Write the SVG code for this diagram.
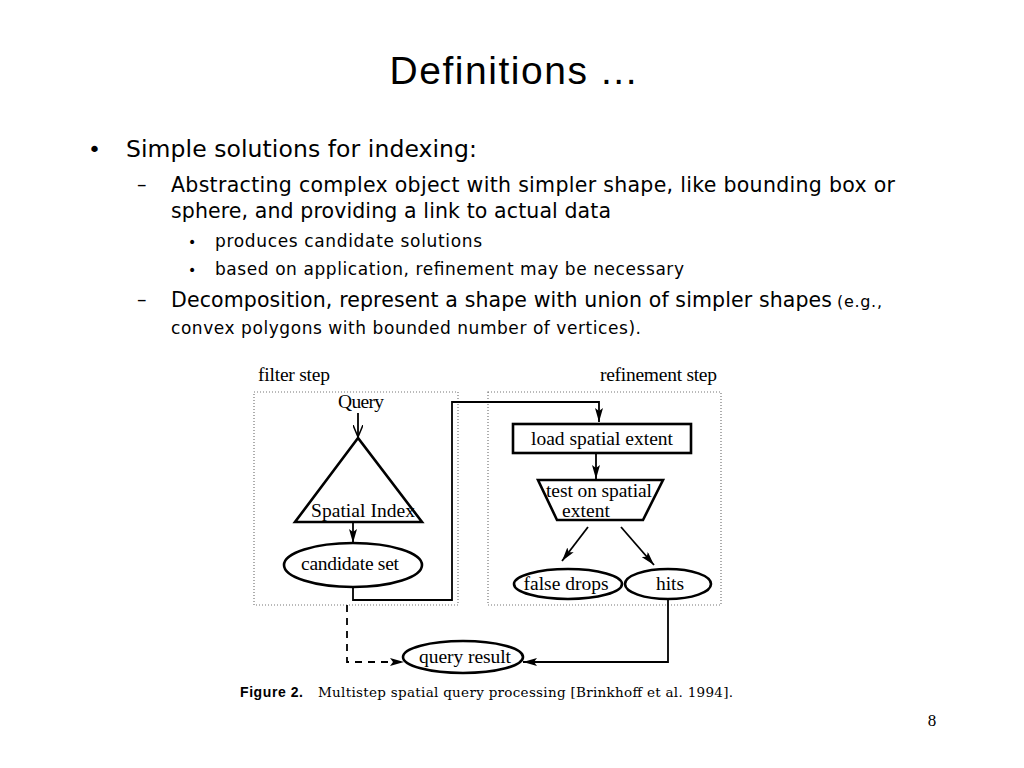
<svg xmlns="http://www.w3.org/2000/svg" width="1024" height="768" viewBox="0 0 1024 768">
<defs>
<style>
.slide{font-family:"DejaVu Sans","Noto Sans",sans-serif;fill:#000}
.fig{font-family:"Liberation Serif","DejaVu Serif",serif;font-size:19.5px;fill:#000}
.node{fill:#fff;stroke:#000;stroke-width:2.6}
.frame{fill:none;stroke:#777;stroke-width:1.2;stroke-dasharray:1 2}
.conn{fill:none;stroke:#000;stroke-width:1.8}
.dash{stroke-dasharray:7 6}
</style>
<marker id="ah" viewBox="0 0 14 8" markerWidth="14" markerHeight="8" refX="14" refY="4" orient="auto" markerUnits="userSpaceOnUse">
<path d="M0,0 L14,4 L0,8 L3,4 z" fill="#000"/>
</marker>
<marker id="av" viewBox="0 0 12 10" markerWidth="12" markerHeight="10" refX="12" refY="5" orient="auto" markerUnits="userSpaceOnUse">
<path d="M0,0 L12,5 L0,10" fill="none" stroke="#000" stroke-width="1.5"/>
</marker>
</defs>
<rect width="1024" height="768" fill="#fff"/>

<g id="slide-text" class="slide">
<text x="513" y="84" font-family="Liberation Sans,sans-serif" font-size="39" text-anchor="middle" textLength="247">Definitions ...</text>
<text x="88" y="157" font-size="22">•</text>
<text x="126" y="157" font-size="23.5" textLength="351">Simple solutions for indexing:</text>
<text x="137" y="191" font-size="19">–</text>
<text x="171" y="192" font-size="20.5" textLength="724">Abstracting complex object with simpler shape, like bounding box or</text>
<text x="171" y="218" font-size="20.5" textLength="440">sphere, and providing a link to actual data</text>
<text x="188" y="247" font-size="14">•</text>
<text x="215" y="247" font-size="17" textLength="267">produces candidate solutions</text>
<text x="188" y="275" font-size="14">•</text>
<text x="215" y="275" font-size="17" textLength="469">based on application, refinement may be necessary</text>
<text x="137" y="306" font-size="19">–</text>
<text x="171" y="307" font-size="20.5" textLength="661">Decomposition, represent a shape with union of simpler shapes</text>
<text x="837" y="307" font-size="16" textLength="45">(e.g.,</text>
<text x="171" y="334" font-size="17" textLength="470">convex polygons with bounded number of vertices).</text>
<text x="932" y="726" font-family="Liberation Serif,serif" font-size="17" text-anchor="middle">8</text>
</g>

<g id="frames">
<text class="fig" x="258" y="381" textLength="72">filter step</text>
<text class="fig" x="600" y="381" textLength="117">refinement step</text>
<rect class="frame" x="254" y="392" width="204" height="213"/>
<rect class="frame" x="488" y="392" width="233" height="213"/>
</g>

<g id="connectors">
<line class="conn" x1="358" y1="413" x2="358" y2="437" marker-end="url(#av)"/>
<line class="conn" x1="353" y1="523" x2="353" y2="543" marker-end="url(#ah)"/>
<polyline class="conn" points="353,587 353,600 452,600 452,402 599,402 599,422" marker-end="url(#ah)"/>
<line class="conn" x1="596" y1="454" x2="596" y2="479" marker-end="url(#ah)"/>
<line class="conn" x1="588" y1="527" x2="562" y2="561" marker-end="url(#ah)"/>
<line class="conn" x1="621" y1="527" x2="654" y2="565" marker-end="url(#ah)"/>
<polyline class="conn" points="668,599 668,662 523,662" marker-end="url(#ah)"/>
<polyline class="conn dash" points="347,605 347,662 404,662" marker-end="url(#ah)"/>
</g>

<g id="query">
<text class="fig" x="361" y="408" text-anchor="middle" textLength="46">Query</text>
</g>
<g id="spatial-index">
<polygon class="node" points="358,438 295,522 422,522"/>
<text class="fig" x="363" y="517" text-anchor="middle" textLength="104">Spatial Index</text>
</g>
<g id="candidate-set">
<ellipse class="node" cx="353" cy="565" rx="69" ry="22"/>
<text class="fig" x="350" y="570" text-anchor="middle" textLength="98">candidate set</text>
</g>
<g id="load-spatial-extent">
<rect class="node" x="513" y="424" width="178" height="29"/>
<text class="fig" x="602" y="445" text-anchor="middle" textLength="142">load spatial extent</text>
</g>
<g id="test-spatial-extent">
<polygon class="node" points="538,480 663,480 643,520 557,520"/>
<text class="fig" x="599" y="497" text-anchor="middle" textLength="106">test on spatial</text>
<text class="fig" x="586" y="517" text-anchor="middle" textLength="48">extent</text>
</g>
<g id="false-drops">
<ellipse class="node" cx="568" cy="584" rx="54" ry="15"/>
<text class="fig" x="566" y="590" text-anchor="middle" textLength="85">false drops</text>
</g>
<g id="hits">
<ellipse class="node" cx="668" cy="584" rx="43" ry="15"/>
<text class="fig" x="670" y="590" text-anchor="middle">hits</text>
</g>
<g id="query-result">
<ellipse class="node" cx="463" cy="657" rx="60" ry="16"/>
<text class="fig" x="465" y="663" text-anchor="middle" textLength="92">query result</text>
</g>

<g id="caption">
<text x="240" y="697" font-family="Liberation Sans,sans-serif" font-weight="bold" font-size="14" textLength="63">Figure 2.</text>
<text x="318" y="697" font-family="DejaVu Serif,serif" font-size="13.5" textLength="415">Multistep spatial query processing [Brinkhoff et al. 1994].</text>
</g>
</svg>
